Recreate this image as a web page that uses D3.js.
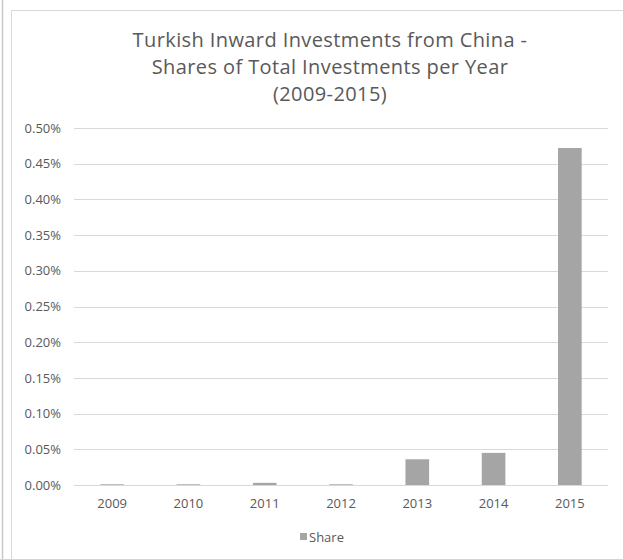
<!DOCTYPE html>
<html><head><meta charset="utf-8">
<script src="https://cdn.jsdelivr.net/npm/d3@7"></script>
<style>body{margin:0;background:#fff;}svg{display:block;font-family:"Open Sans",sans-serif;}</style>
</head><body>
<svg id="c" width="623" height="559"></svg>
<script>
const categories = ["2009","2010","2011","2012","2013","2014","2015"];
const shares = [0.001, 0.001, 0.003, 0.001, 0.036, 0.045, 0.472]; // percent
const yTicks = [0,0.05,0.10,0.15,0.20,0.25,0.30,0.35,0.40,0.45,0.50];
const titleLines = ["Turkish Inward Investments from China -","Shares of Total Investments per Year","(2009-2015)"];
const seriesName = "Share";

const svg = d3.select("#c");
// outer frame lines
svg.append("line").attr("x1",2.5).attr("x2",2.5).attr("y1",0).attr("y2",559).attr("stroke","#c8c8c8").attr("stroke-width",1.5);
svg.append("rect").attr("x",11.5).attr("y",10.5).attr("width",640).attr("height",600).attr("fill","#fff").attr("stroke","#d9d9d9");

const x = d3.scaleBand().domain(categories).range([74,608]).paddingInner(0.69).paddingOuter(0.345);
const y = d3.scaleLinear().domain([0,0.5]).range([485,128]);

// gridlines
svg.append("g").selectAll("line").data(yTicks).join("line")
  .attr("x1",74).attr("x2",608).attr("y1",d=>Math.round(y(d))+0.5).attr("y2",d=>Math.round(y(d))+0.5)
  .attr("stroke","#d9d9d9").attr("stroke-width",1);

// y axis labels
const yAxis = d3.axisLeft(y).tickValues(yTicks).tickFormat(d=>d.toFixed(2)+"%").tickSize(0).tickPadding(0);
const gy = svg.append("g").attr("transform","translate(61,0)").call(yAxis);
gy.select(".domain").remove();
gy.selectAll("text").attr("fill","#595959").style("font-size","13px").style("font-family","Open Sans");

// x axis labels
const xAxis = d3.axisBottom(x).tickSize(0).tickPadding(0);
const gx = svg.append("g").attr("transform","translate(0,499)").call(xAxis);
gx.select(".domain").remove();
gx.selectAll("text").attr("fill","#595959").style("font-size","13px").style("font-family","Open Sans");

// bars
svg.append("g").selectAll("rect").data(categories).join("rect")
  .attr("x",d=>x(d)).attr("width",x.bandwidth())
  .attr("y",(d,i)=>y(shares[i])).attr("height",(d,i)=>y(0)-y(shares[i]))
  .attr("fill","#a5a5a5");

// title
svg.append("g").selectAll("text").data(titleLines).join("text")
  .attr("x",330).attr("y",(d,i)=>47+i*27).attr("text-anchor","middle")
  .attr("fill","#595959").style("font-size","20px").style("letter-spacing","0.4px").text(d=>d);

// legend
svg.append("rect").attr("x",300).attr("y",533).attr("width",7).attr("height",7).attr("fill","#a5a5a5");
svg.append("text").attr("x",309).attr("y",542).attr("fill","#595959").style("font-size","13px").text(seriesName);
</script>
</body></html>
